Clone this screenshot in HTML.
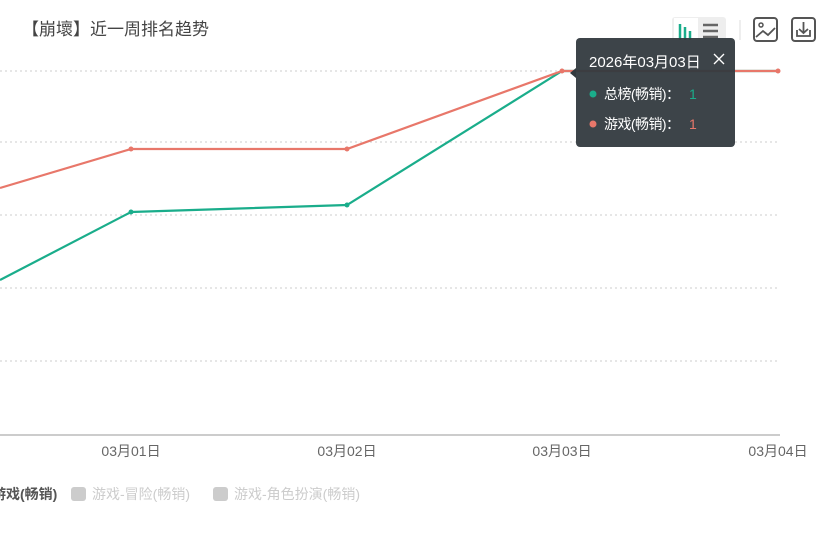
<!DOCTYPE html>
<html><head><meta charset="utf-8"><style>
body{margin:0;width:827px;height:536px;background:#fff;overflow:hidden;font-family:"Liberation Sans","Noto Sans CJK SC",sans-serif;}
</style></head><body>
<svg width="827" height="536" xmlns="http://www.w3.org/2000/svg" style="position:absolute;left:0;top:0">
<text x="22" y="35" font-size="17" fill="#444" font-family="Liberation Sans,Noto Sans CJK SC,sans-serif">【崩壞】近一周排名趋势</text>
<g stroke="#ddd" stroke-width="1.5" stroke-dasharray="2,3">
<line x1="0" y1="71" x2="780" y2="71"/><line x1="0" y1="142" x2="780" y2="142"/><line x1="0" y1="215" x2="780" y2="215"/><line x1="0" y1="288" x2="780" y2="288"/><line x1="0" y1="361" x2="780" y2="361"/>
</g>
<line x1="0" y1="435" x2="780" y2="435" stroke="#bbb" stroke-width="1.5"/>
<g font-size="14" fill="#666" text-anchor="middle" font-family="Liberation Sans,Noto Sans CJK SC,sans-serif">
<text x="131" y="456">03月01日</text><text x="347" y="456">03月02日</text><text x="562" y="456">03月03日</text><text x="778" y="456">03月04日</text></g>
<polyline points="0,280 131,212 347,205 562,71 778,71" fill="none" stroke="#1aad8b" stroke-width="2.2"/>
<polyline points="0,188 131,149 347,149 562,71 778,71" fill="none" stroke="#e8776a" stroke-width="2.2"/>
<g fill="#1aad8b"><circle cx="131" cy="212" r="2.5"/><circle cx="347" cy="205" r="2.5"/></g>
<g fill="#e8776a"><circle cx="131" cy="149" r="2.5"/><circle cx="347" cy="149" r="2.5"/><circle cx="562" cy="71" r="2.5"/><circle cx="778" cy="71" r="2.5"/></g>
<g font-size="14" font-family="Liberation Sans,Noto Sans CJK SC,sans-serif">
<text x="-8" y="499" fill="#555" font-weight="bold">游戏(畅销)</text>
<rect x="71" y="487" width="15" height="14" rx="3" fill="#ccc"/><text x="92" y="499" fill="#ccc">游戏-冒险(畅销)</text>
<rect x="213" y="487" width="15" height="14" rx="3" fill="#ccc"/><text x="234" y="499" fill="#ccc">游戏-角色扮演(畅销)</text>
</g>
<!-- toolbox -->
<rect x="672" y="17" width="54" height="27" rx="3" fill="#eee"/>
<rect x="674" y="18" width="24" height="25" fill="#fff"/>
<g stroke="#1aad8b" stroke-width="2.5"><line x1="680" y1="24" x2="680" y2="40"/><line x1="685" y1="27" x2="685" y2="40"/><line x1="690" y1="31" x2="690" y2="40"/></g>
<g stroke="#666" stroke-width="2.5"><line x1="703" y1="25" x2="718" y2="25"/><line x1="703" y1="31" x2="718" y2="31"/><line x1="703" y1="37" x2="718" y2="37"/></g>
<line x1="740" y1="20" x2="740" y2="40" stroke="#ddd"/>
<rect x="754" y="18" width="23" height="23" rx="3" fill="none" stroke="#555" stroke-width="2"/>
<circle cx="761" cy="25" r="2" fill="none" stroke="#555" stroke-width="1.5"/>
<polyline points="756,37 763,31 768,35 775,28" fill="none" stroke="#555" stroke-width="1.8"/>
<rect x="792" y="18" width="23" height="23" rx="3" fill="none" stroke="#555" stroke-width="2"/>
<polyline points="797,30 797,36 810,36 810,30" fill="none" stroke="#555" stroke-width="1.8"/>
<line x1="803.5" y1="22" x2="803.5" y2="33" stroke="#555" stroke-width="1.8"/>
<polyline points="799,29 803.5,33 808,29" fill="none" stroke="#555" stroke-width="1.8"/>
<!-- tooltip -->
<rect x="576" y="38" width="159" height="109" rx="4" fill="#333a3f" opacity="0.95"/>
<polygon points="576,68 570,73 576,78" fill="#333a3f"/>
<g font-family="Liberation Sans,Noto Sans CJK SC,sans-serif">
<text x="589" y="67" font-size="15" fill="#fff">2026年03月03日</text>
<g stroke="#fff" stroke-width="1.3"><line x1="714" y1="54" x2="724" y2="64"/><line x1="724" y1="54" x2="714" y2="64"/></g>
<circle cx="593" cy="94" r="3.5" fill="#1aad8b"/><text x="604" y="99" font-size="14" fill="#fff" textLength="76" lengthAdjust="spacing">总榜(畅销)：</text><text x="689" y="99" font-size="14" fill="#1aad8b">1</text>
<circle cx="593" cy="124" r="3.5" fill="#e8776a"/><text x="604" y="129" font-size="14" fill="#fff" textLength="76" lengthAdjust="spacing">游戏(畅销)：</text><text x="689" y="129" font-size="14" fill="#e8776a">1</text>
</g>
</svg>
</body></html>
